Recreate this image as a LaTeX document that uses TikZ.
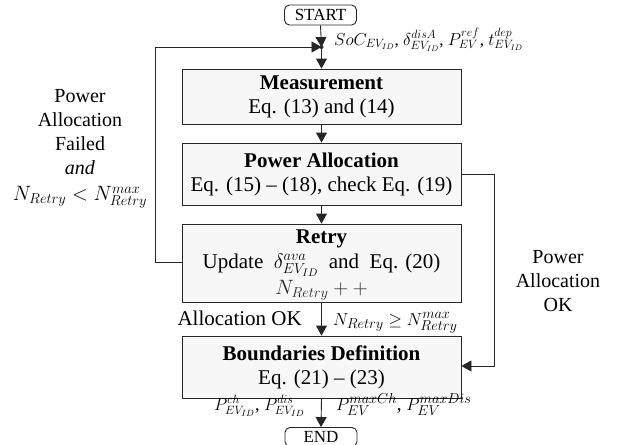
\documentclass[tikz,border=0pt]{standalone}
\usepackage{fontspec}
\setmainfont{Liberation Serif}
\usetikzlibrary{arrows.meta}
\begin{document}
\begin{tikzpicture}[x=1pt,y=-1pt,
  font=\fontsize{21}{24}\selectfont,
  box/.style={draw=black!85, fill=black!3, line width=0.9pt, minimum width=279pt, inner sep=0pt, align=center},
  term/.style={draw=black!85, rounded corners=5pt, fill=white, line width=0.9pt, minimum width=72pt, minimum height=20pt, inner sep=0pt, font=\fontsize{17}{18}\selectfont},
  flow/.style={draw=black!85, line width=0.9pt, -{Triangle[length=10pt,width=11pt]}},
  lbl/.style={inner sep=0pt, align=center, font=\fontsize{20}{24}\selectfont},
  mlbl/.style={inner sep=0pt, font=\fontsize{17}{20}\selectfont}]
\useasboundingbox (0,0) rectangle (630,445);

\node[term] (start) at (320.5,15) {START};
\node[term, minimum height=19pt] (end) at (321,437) {END};

\node[box, minimum height=55pt] (meas) at (321.5,96.5) {\textbf{Measurement}\\Eq. (13) and (14)};
\node[box, minimum height=62pt] (pa) at (321.5,174) {\textbf{Power Allocation}\\Eq. (15) -- (18), check Eq. (19)};
\node[box, minimum height=78pt] (retry) at (321.5,263) {};
\node[inner sep=0pt, align=center] (retryt) at (321.5,265) {\textbf{Retry}\\[1pt]Update \ $\delta^{ava}_{EV_{ID}}$ \ and \ Eq. (20)\\[2pt]{\color{black!85}$N_{Retry}++$}};
\node[box, minimum height=62pt] (bd) at (321.5,367) {\textbf{Boundaries Definition}\\Eq. (21) -- (23)};

\coordinate (j) at (321.5,47);
\fill[black!85] (j) circle (2pt);
\coordinate (lc) at (155,47);
\coordinate (rc) at (155,262);
\coordinate (pr) at (494,174);
\coordinate (br) at (494,366);

\draw[flow] (start.south) -- (j);
\draw[flow] (retry.west |- rc) -- (rc) -- (lc) -- (j);
\draw[flow] (j) -- (meas.north);
\draw[flow] (meas.south) -- (pa.north);
\draw[flow] (pa.south) -- (retry.north);
\draw[flow] (retry.south) -- (bd.north);
\draw[flow] (pa.east |- pr) -- (pr) -- (br) -- (bd.east |- br);
\draw[flow] (bd.south) -- (end.north);

\node[mlbl, anchor=base west] (inlbl) at (334,45) {$SoC_{EV_{ID}}$, $\delta^{disA}_{EV_{ID}}$, $P^{ref}_{EV}$, $t^{dep}_{EV_{ID}}$};
\node[lbl, anchor=center] (fail) at (80,149) {Power\\Allocation\\Failed\\\textit{and}\\[2pt]$N_{Retry}<N^{max}_{Retry}$};
\node[lbl] (ok) at (558,281) {Power\\Allocation\\OK};
\node[lbl, font=\fontsize{21}{24}\selectfont, anchor=base east] (aok) at (302,325) {Allocation OK};
\node[mlbl, font=\fontsize{19}{20}\selectfont, anchor=base west] (nmax) at (333,325) {$N_{Retry}\geq N^{max}_{Retry}$};
\node[mlbl, font=\fontsize{18}{20}\selectfont, anchor=base east] (outl) at (305,410) {$P^{ch}_{EV_{ID}}$, $P^{dis}_{EV_{ID}}$};
\node[mlbl, font=\fontsize{19}{20}\selectfont, anchor=base west] (outr) at (336,410) {$P^{maxCh}_{EV}$, $P^{maxDis}_{EV}$};
\end{tikzpicture}
\end{document}
